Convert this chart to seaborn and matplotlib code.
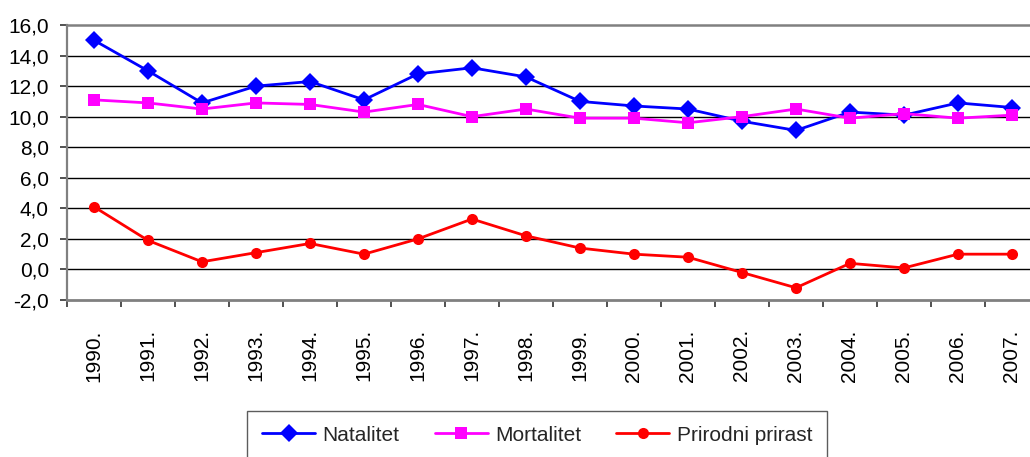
import numpy as np
import pandas as pd
import matplotlib
matplotlib.use("Agg")
import matplotlib.pyplot as plt
import seaborn as sns
from matplotlib.ticker import FixedLocator, FuncFormatter

years = ["1990.", "1991.", "1992.", "1993.", "1994.", "1995.", "1996.", "1997.", "1998.",
         "1999.", "2000.", "2001.", "2002.", "2003.", "2004.", "2005.", "2006.", "2007."]
natalitet = [15.0, 13.0, 10.9, 12.0, 12.3, 11.1, 12.8, 13.2, 12.6,
             11.0, 10.7, 10.5, 9.7, 9.1, 10.3, 10.1, 10.9, 10.6]
mortalitet = [11.1, 10.9, 10.5, 10.9, 10.8, 10.3, 10.8, 10.0, 10.5,
              9.9, 9.9, 9.6, 10.0, 10.5, 9.9, 10.2, 9.9, 10.1]
prirast = [4.1, 1.9, 0.5, 1.1, 1.7, 1.0, 2.0, 3.3, 2.2,
           1.4, 1.0, 0.8, -0.2, -1.2, 0.4, 0.1, 1.0, 1.0]
series_names = ["Natalitet", "Mortalitet", "Prirodni prirast"]
yticks = [-2, 0, 2, 4, 6, 8, 10, 12, 14, 16]

sns.set_theme(style="white")
plt.rcParams["font.family"] = ["Liberation Sans", "DejaVu Sans"]

rows = []
for name, vals in zip(series_names, [natalitet, mortalitet, prirast]):
    for i, v in enumerate(vals):
        rows.append({"idx": i, "value": v, "series": name})
df = pd.DataFrame(rows)

fig = plt.figure(figsize=(10.30, 4.57), dpi=100)
ax = fig.add_axes([67 / 1030, 1 - 300 / 457, 972 / 1030, 275 / 457])

palette = {"Natalitet": "#0000FF", "Mortalitet": "#FF00FF", "Prirodni prirast": "#FF0000"}
markers = {"Natalitet": "D", "Mortalitet": "s", "Prirodni prirast": "o"}
sizes_m = {"Natalitet": 9.5, "Mortalitet": 8.5, "Prirodni prirast": 8}

for name in series_names:
    sub = df[df["series"] == name]
    sns.lineplot(data=sub, x="idx", y="value", ax=ax, color=palette[name],
                 marker=markers[name], markersize=sizes_m[name], markeredgewidth=0,
                 linewidth=2.0, label=name, zorder=3)

ax.set_xlim(-0.5, len(years) - 0.5)
ax.set_ylim(-2, 16)
ax.set_xlabel("")
ax.set_ylabel("")

ax.set_yticks(yticks)
ax.yaxis.set_major_formatter(FuncFormatter(lambda v, p: f"{v:.1f}".replace(".", ",")))
ax.set_xticks(range(len(years)))
ax.set_xticklabels(years, rotation=90)
ax.xaxis.set_minor_locator(FixedLocator(np.arange(-0.5, len(years), 1.0)))
ax.tick_params(axis="x", which="major", length=0, pad=21, labelsize=15, colors="black")
ax.tick_params(axis="x", which="minor", length=5, width=1.2, color="#333333", direction="out", bottom=True)
ax.tick_params(axis="y", which="major", length=5, width=1.2, color="#333333", direction="out",
               left=True, pad=8, labelsize=15, labelcolor="black")

for y in yticks[1:-1]:
    ax.axhline(y, color="black", linewidth=1.0, zorder=1)

for side in ["top", "bottom", "left"]:
    ax.spines[side].set_visible(True)
    ax.spines[side].set_color("#808080")
ax.spines["top"].set_linewidth(1.8)
ax.spines["bottom"].set_linewidth(2.0)
ax.spines["left"].set_linewidth(1.6)
ax.spines["right"].set_visible(False)

ax.get_legend().remove()
handles, labels = ax.get_legend_handles_labels()
leg = fig.legend(handles, labels, loc="upper center", bbox_to_anchor=(537 / 1030, 1 - 411 / 457),
                 ncol=3, frameon=True, fancybox=False, edgecolor="#333333", fontsize=15,
                 handlelength=2.55, handletextpad=0.34, columnspacing=1.7, borderpad=0.7,
                 borderaxespad=0)
leg.get_frame().set_linewidth(1.0)

fig.savefig("out.png", dpi=100, facecolor="white")
